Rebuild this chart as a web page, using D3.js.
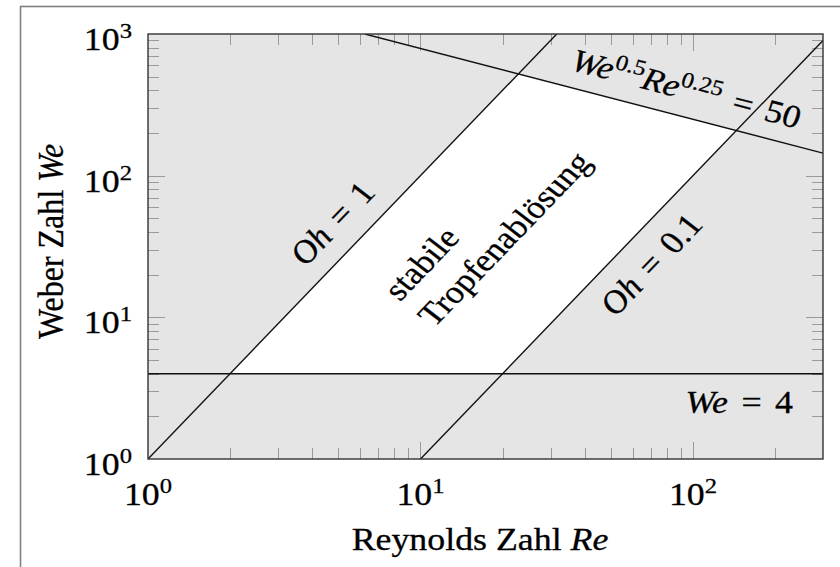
<!DOCTYPE html>
<html>
<head>
<meta charset="utf-8">
<script src="https://cdn.jsdelivr.net/npm/d3@7"></script>
<style>
  body { margin: 0; background: #fff; }
  svg text { font-family: "Liberation Serif", "DejaVu Serif", serif; fill: #000; stroke: #000; stroke-width: 0.3px; white-space: pre; }
</style>
</head>
<body>
<div id="chart"></div>
<script>
// axis ranges and ticks
const reDomain = [1, 300];
const weDomain = [1, 1000];
const reMajor = [1, 10, 100];
const weMajor = [1, 10, 100, 1000];
const reMinor = [2, 3, 4, 5, 6, 7, 8, 9, 20, 30, 40, 50, 60, 70, 80, 90, 200];
const weMinor = [2, 3, 4, 5, 6, 7, 8, 9, 20, 30, 40, 50, 60, 70, 80, 90, 200, 300, 400, 500, 600, 700, 800, 900];
const tickExp = ["0", "1", "2", "3"];

// boundary lines (Re, We end points)
const ohOneLine = [{ re: 1, we: 1 }, { re: 31.62, we: 1000 }];
const ohTenthLine = [{ re: 10, we: 1 }, { re: 300, we: 900 }];
const weFourLine = [{ re: 1, we: 4 }, { re: 300, we: 4 }];
const limitLine = [{ re: 6.25, we: 1000 }, { re: 300, we: 144.3 }];

// white zone corners
const stableZone = [
  { re: 2, we: 4 },
  { re: 20, we: 4 },
  { re: 144.3, we: 208.2 },
  { re: 22.87, we: 523 }
];

const W = 840, H = 567;
const SX = 1.12; // glyphs are a bit wider than tall in the reference
const plot = { left: 148, right: 823, top: 34, bottom: 459 };

const svg = d3.select("#chart").append("svg")
  .attr("width", W)
  .attr("height", H);

// outer frame
svg.append("rect")
  .attr("x", 20.5).attr("y", 6.5)
  .attr("width", 900).attr("height", 700)
  .attr("fill", "none")
  .attr("stroke", "#808080")
  .attr("stroke-width", 1.6);

const x = d3.scaleLog().domain(reDomain).range([plot.left, plot.right]);
const y = d3.scaleLog().domain(weDomain).range([plot.bottom, plot.top]);

svg.append("defs").append("clipPath").attr("id", "clip")
  .append("rect")
  .attr("x", plot.left).attr("y", plot.top)
  .attr("width", plot.right - plot.left).attr("height", plot.bottom - plot.top);

// gray background and white stable region
svg.append("rect")
  .attr("x", plot.left).attr("y", plot.top)
  .attr("width", plot.right - plot.left).attr("height", plot.bottom - plot.top)
  .attr("fill", "#e5e5e5");

svg.append("path")
  .datum(stableZone)
  .attr("d", d3.line().x(d => x(d.re)).y(d => y(d.we)).curve(d3.curveLinearClosed))
  .attr("fill", "#fff");

// ticks, inside on all four sides
const tickG = svg.append("g").attr("stroke", "#9a9a9a").attr("stroke-width", 1);
function xTicks(vals, len) {
  vals.forEach(v => {
    const px = Math.round(x(v)) + 0.5;
    tickG.append("line").attr("x1", px).attr("x2", px).attr("y1", plot.bottom).attr("y2", plot.bottom - len);
    tickG.append("line").attr("x1", px).attr("x2", px).attr("y1", plot.top).attr("y2", plot.top + len);
  });
}
function yTicks(vals, len) {
  vals.forEach(v => {
    const py = Math.round(y(v)) + 0.5;
    tickG.append("line").attr("y1", py).attr("y2", py).attr("x1", plot.left).attr("x2", plot.left + len);
    tickG.append("line").attr("y1", py).attr("y2", py).attr("x1", plot.right).attr("x2", plot.right - len);
  });
}
xTicks(reMinor, 11);
xTicks(reMajor.slice(1), 17);
yTicks(weMinor, 11);
yTicks(weMajor.slice(1, 3), 17);

// boundary lines
const lineGen = d3.line().x(d => x(d.re)).y(d => y(d.we));
const lineG = svg.append("g").attr("clip-path", "url(#clip)");
[ohOneLine, ohTenthLine, weFourLine, limitLine].forEach(l => {
  lineG.append("path")
    .datum(l)
    .attr("d", lineGen)
    .attr("fill", "none")
    .attr("stroke", "#111")
    .attr("stroke-width", 1.4);
});

// plot frame
svg.append("rect")
  .attr("x", plot.left).attr("y", plot.top)
  .attr("width", plot.right - plot.left).attr("height", plot.bottom - plot.top)
  .attr("fill", "none")
  .attr("stroke", "#333")
  .attr("stroke-width", 1.4);

// text helpers
const FS = 32, SUP = 22, RISE = 12, GAP = 4;
function label(px, py, angle, anchor) {
  return svg.append("text")
    .attr("transform", `translate(${px},${py}) scale(${SX},1) rotate(${angle})`)
    .attr("text-anchor", anchor)
    .style("font-size", FS + "px");
}
function power(t, base, exp) {
  t.append("tspan").text(base);
  t.append("tspan").attr("dy", -RISE).style("font-size", SUP + "px").text(exp);
}
// math style "lhs = rhs" with a bit wider spacing round the sign
function equation(t, lhs, rhs) {
  if (lhs) t.append("tspan").style("font-style", "italic").text(lhs);
  t.append("tspan").attr("dx", GAP).text(" =");
  t.append("tspan").attr("dx", GAP).text(" " + rhs);
}
function lineAngle(l) {
  const dx = (x(l[1].re) - x(l[0].re)) / SX;
  const dy = y(l[1].we) - y(l[0].we);
  return Math.atan2(dy, dx) * 180 / Math.PI;
}

// tick labels
reMajor.forEach((v, i) => power(label(x(v), plot.bottom + 46, 0, "middle"), "10", tickExp[i]));
weMajor.forEach((v, i) => power(label(132, y(v) + 16, 0, "end"), "10", tickExp[i]));

// axis titles
const xt = label(480, 550, 0, "middle");
xt.append("tspan").text("Reynolds Zahl ");
xt.append("tspan").style("font-style", "italic").text("Re");

const yt = label(63, (plot.top + plot.bottom) / 2 - 5, -90, "middle");
yt.append("tspan").text("Weber Zahl ");
yt.append("tspan").style("font-style", "italic").text("We");

// line labels
const aOh = lineAngle(ohOneLine);
equation(label(x(5.82), y(33.9), aOh, "middle").attr("y", -18), "Oh", "1");
equation(label(x(56.8), y(32.2), aOh, "middle").attr("y", 40), "Oh", "0.1");

const aLim = lineAngle(limitLine);
const t3 = label(x(88), y(266.6), aLim, "middle").attr("y", -17);
t3.append("tspan").style("font-style", "italic").text("We");
t3.append("tspan").attr("dy", -RISE).style("font-size", SUP + "px").text("0.5");
t3.append("tspan").attr("dy", RISE).style("font-style", "italic").text("Re");
t3.append("tspan").attr("dy", -RISE).style("font-size", SUP + "px").text("0.25");
t3.append("tspan").attr("dy", RISE).attr("dx", GAP).text(" =");
t3.append("tspan").attr("dx", GAP).text(" 50");

equation(label(793, y(4) + 39, 0, "end"), "We", "4");

// region label, two left aligned lines
const t5 = label(x(8.41), y(12.8), aOh, "start");
t5.append("tspan").attr("x", 0).text("stabile");
t5.append("tspan").attr("x", 0).attr("dy", 40).text("Tropfenablösung");
</script>
</body>
</html>
